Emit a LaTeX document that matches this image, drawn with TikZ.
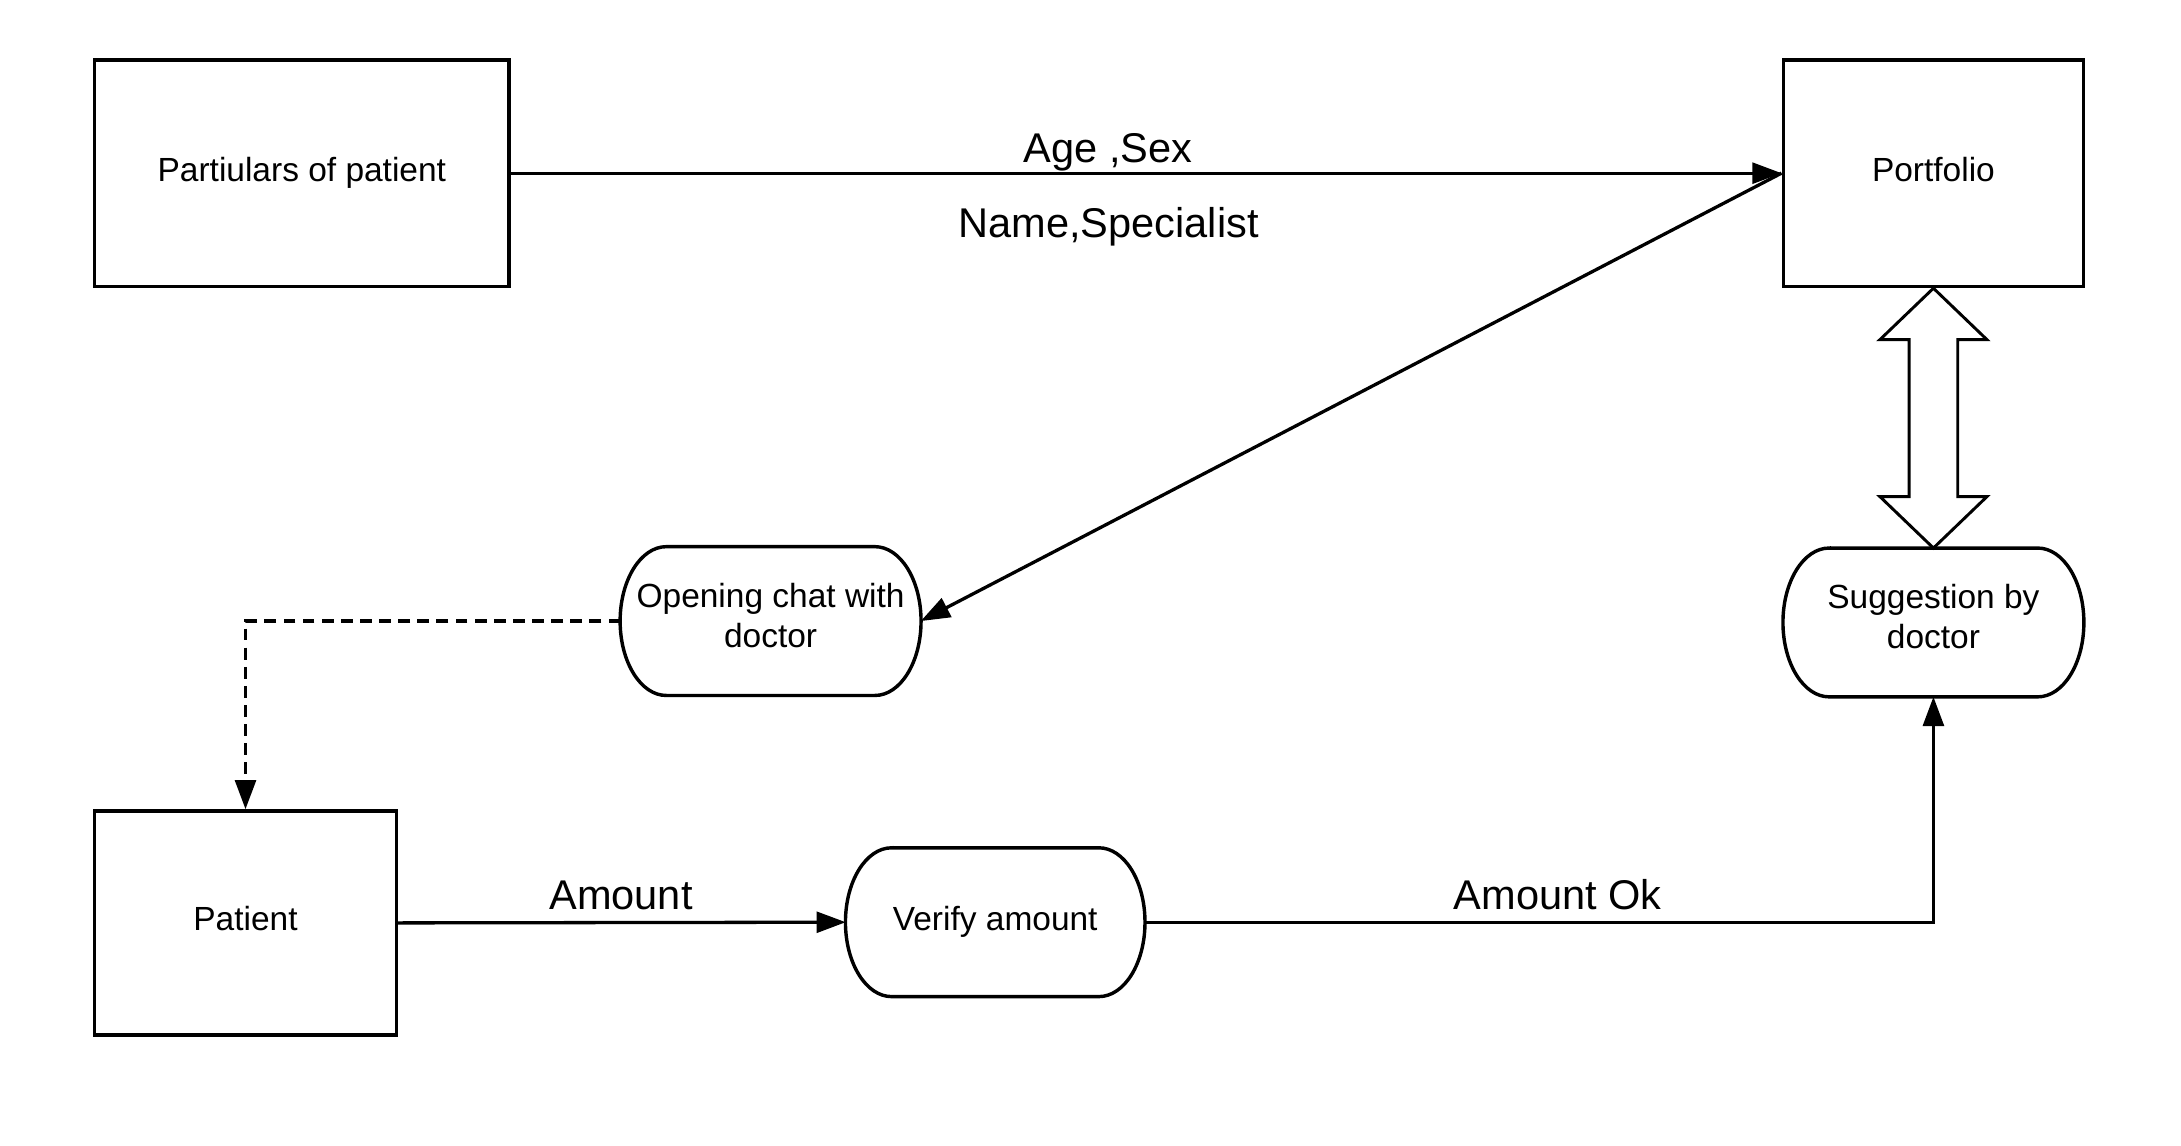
\documentclass[tikz,border=0pt]{standalone}
\usepackage{fontspec}
\setmainfont{Liberation Sans}
\usetikzlibrary{calc,arrows.meta}
\tikzset{
  line-base/.style={
    line width=1.35pt,
    line join=miter
  },
  node-box/.style={
    rectangle,
    draw=black,
    line width=1.4pt,
    align=center,
    inner sep=0pt,
    font=\fontsize{13.7}{16.4}\selectfont,
    execute at begin node=\strut,
    execute at end node=\strut
  },
  node-term/.style={
    node-box,
    draw=none,
    outer sep=0pt
  },
  term-frame/.style={line-base, line width=1.4pt},
  line-arrow/.style={line-base, -{Triangle[length=0.42cm,width=0.30cm]}},
  line-dashed/.style={line-arrow, dash pattern=on 0.17cm off 0.105cm},
  arrow-hollow/.style={line-base, line width=1.2pt, draw=black, fill=white},
  label-text/.style={font=\fontsize{17}{20}\selectfont, inner sep=0pt, anchor=base}
}
% flat top and bottom, half-ellipse ends
\newcommand{\termframe}[1]{
  \draw[term-frame] ($(#1.north west)+(33,0)$) -- ($(#1.north east)+(-33,0)$)
    arc[start angle=90, end angle=-90, x radius=0.664cm, y radius=1.07cm]
    -- ($(#1.south west)+(33,0)$)
    arc[start angle=270, end angle=90, x radius=0.664cm, y radius=1.07cm]
    -- cycle;
}

\begin{document}
\begin{tikzpicture}[x=0.02cm, y=-0.02cm]
  \useasboundingbox (0,0) rectangle (1568,823.2);
  % boxes
  \node[node-box, minimum width=5.96cm, minimum height=3.26cm] (part) at (217,124.5) {Partiulars of patient};
  \node[node-box, minimum width=4.32cm, minimum height=3.26cm] (port) at (1390,124.5) {Portfolio};
  \node[node-box, minimum width=4.34cm, minimum height=3.22cm] (pat) at (176.5,663.5) {Patient};
  % processes
  \node[node-term, minimum width=4.32cm, minimum height=2.14cm] (chat) at (554,446.5) {Opening chat with\\doctor};
  \node[node-term, minimum width=4.30cm, minimum height=2.14cm] (ver) at (715.5,663) {Verify amount};
  \node[node-term, minimum width=4.32cm, minimum height=2.14cm] (sug) at (1390,447.5) {Suggestion by\\doctor};
  \termframe{chat}
  \termframe{ver}
  \termframe{sug}
  % connectors
  \draw[line-arrow] (part.east) -- (port.west);
  \draw[line-arrow] (port.west) -- (chat.east);
  \draw[line-dashed] (chat.west) -| (pat.north);
  \draw[line-arrow] (pat.east) -- (ver.west);
  \draw[line-arrow] (ver.east) -| (sug.south);
  % two-way hollow arrow
  \draw[arrow-hollow] (port.south) -- ++(38.5,37) -- ++(-21,0)
    -- ($(sug.north)+(17.5,-37)$) -- ++(21,0) -- (sug.north)
    -- ++(-38.5,-37) -- ++(21,0)
    -- ($(port.south)+(-17.5,37)$) -- ++(-21,0) -- cycle;
  % labels
  \node[label-text] (agesex) at (796.5,116.7) {Age ,Sex};
  \node[label-text] (namespec) at (797,170.7) {Name,Specialist};
  \node[label-text] (amt) at (446.5,653.7) {Amount};
  \node[label-text] (amtok) at (1120,653.7) {Amount Ok};
\end{tikzpicture}
\end{document}
